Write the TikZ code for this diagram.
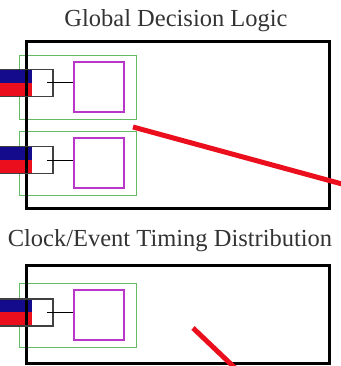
\documentclass[tikz,border=0pt]{standalone}
\usepackage{fontspec}
\setmainfont{Liberation Serif}
\begin{document}
\begin{tikzpicture}[x=1pt,y=-1pt,
  bigbox/.style={draw=black,line width=3pt,minimum width=303pt,inner sep=0pt},
  greenbox/.style={draw=green!55!black!60,line width=0.9pt,minimum width=117pt,minimum height=64pt,inner sep=0pt},
  magbox/.style={draw=purplish,line width=2pt,minimum width=50pt,minimum height=50pt,inner sep=0pt},
  portbox/.style={draw=black!75,line width=1.6pt,minimum width=55pt,minimum height=27pt,inner sep=0pt},
  conn/.style={draw=black,line width=1pt},
  redline/.style={draw=brred,line width=5pt},
  title/.style={font=\fontsize{24.5}{26}\selectfont,text=black!80,inner sep=0pt}
]
\definecolor{navy}{RGB}{20,10,140}
\definecolor{brred}{RGB}{235,15,30}
\definecolor{purplish}{RGB}{185,55,200}
\useasboundingbox (0,0) rectangle (340,366);
% titles
\node[title] (t1) at (176,21) {Global Decision Logic};
\node[title] (t2) at (170,241) {Clock/Event Timing Distribution};
% green boxes
\node[greenbox] (g1) at (77.5,87) {};
\node[greenbox] (g2) at (78,163) {};
\node[greenbox] (g3) at (77.5,315) {};
% magenta boxes
\node[magbox] (m1) at (99,87) {};
\node[magbox] (m2) at (99,163) {};
\node[magbox] (m3) at (99,315) {};
% port fills
\fill[navy] (-2,69) rectangle (32,83);
\fill[brred] (-2,83) rectangle (32,97);
\fill[navy] (-2,147) rectangle (32,160);
\fill[brred] (-2,160) rectangle (32,173);
\fill[navy] (-2,298) rectangle (32,312);
\fill[brred] (-2,312) rectangle (32,327);
% big boxes
\node[bigbox,minimum height=166pt] (b1) at (177.5,125) {};
\node[bigbox,minimum height=98pt] (b2) at (177.5,314) {};
% port boxes
\node[portbox] (p1) at (25.5,83) {};
\node[portbox] (p2) at (25.5,160) {};
\node[portbox] (p3) at (25.5,312.5) {};
% connectors
\coordinate (c1) at (47,83);
\coordinate (c2) at (47,160);
\coordinate (c3) at (47,312);
\draw[conn] (c1) -- (c1 -| m1.west);
\draw[conn] (c2) -- (c2 -| m2.west);
\draw[conn] (c3) -- (c3 -| m3.west);
% red lines
\coordinate (r1a) at (133,127);
\coordinate (r1b) at (342,184);
\coordinate (r2a) at (193,328);
\coordinate (r2b) at (235,368);
\draw[redline] (r1a) -- (r1b);
\draw[redline] (r2a) -- (r2b);
\end{tikzpicture}
\end{document}
